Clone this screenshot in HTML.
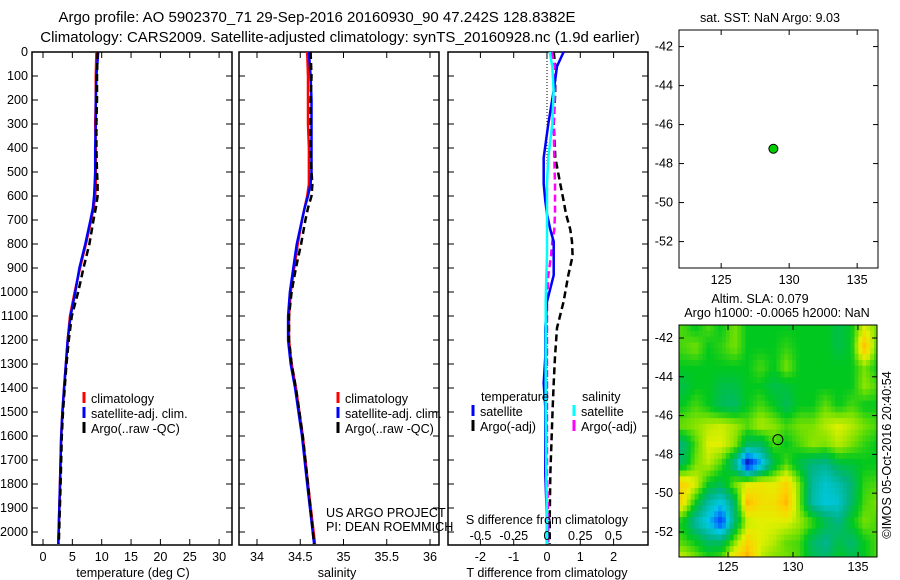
<!DOCTYPE html>
<html><head><meta charset="utf-8"><style>
body{margin:0;background:#fff;}
svg{display:block;font-family:"Liberation Sans",sans-serif;}
text{fill:#000;}
</style></head><body>
<svg id="fig" width="900" height="580" viewBox="0 0 900 580">
<text x="317" y="22" font-size="15" text-anchor="middle">Argo profile: AO 5902370_71 29-Sep-2016 20160930_90 47.242S 128.8382E</text>
<text x="340" y="42" font-size="15" text-anchor="middle">Climatology: CARS2009. Satellite-adjusted climatology: synTS_20160928.nc (1.9d earlier)</text>
<g id="g"></g>
</svg>
<script>
// ---- data ----
const depths = [0,100,200,300,400,500,550,600,650,700,800,900,1000,1100,1200,1300,1400,1500,1600,1800,2050];
const tempClim = [9.1,9.0,9.0,8.9,9.0,9.0,9.0,8.9,8.6,8.2,7.3,6.3,5.4,4.6,4.2,3.9,3.6,3.3,3.1,2.9,2.6];
const tempSat  = [9.4,9.1,9.0,9.0,8.9,8.9,8.8,8.7,8.5,8.1,7.2,6.2,5.5,4.7,4.2,3.9,3.6,3.3,3.1,2.9,2.6];
const tempArgo = [9.3,9.2,9.2,9.1,9.1,9.2,9.3,9.3,9.0,8.6,7.9,6.9,6.0,4.9,4.4,4.0,3.7,3.4,3.2,3.0,2.7];
const salClim  = [34.58,34.59,34.59,34.59,34.60,34.60,34.60,34.58,34.55,34.52,34.47,34.43,34.39,34.37,34.37,34.40,34.45,34.49,34.53,34.59,34.67];
const salSat   = [34.60,34.62,34.63,34.63,34.63,34.63,34.62,34.59,34.55,34.52,34.46,34.42,34.38,34.36,34.36,34.39,34.44,34.48,34.52,34.58,34.66];
const salArgo  = [34.62,34.63,34.62,34.62,34.62,34.63,34.64,34.63,34.59,34.56,34.51,34.45,34.40,34.37,34.37,34.40,34.45,34.49,34.53,34.59,34.66];
const diffDepths = [0,60,160,300,440,550,620,675,740,790,850,930,1040,1150,1270,1380,1480,1760,1950,2050];
const tDiffSat  = [0.5,0.3,0.2,0.04,-0.1,-0.1,-0.05,0,0.1,0.2,0.2,0.2,0.0,-0.05,-0.05,-0.1,-0.05,-0.05,0,0];
const tDiffArgo = [0.2,0.25,0.25,0.2,0.25,0.4,0.5,0.57,0.7,0.75,0.77,0.64,0.5,0.3,0.24,0.2,0.17,0.1,0.08,0.08];
const sDiffSat  = [0.02,0.04,0.05,0.04,0.01,0.0,0.0,0.0,0.0,0.0,0.0,-0.005,-0.01,-0.01,-0.01,-0.01,-0.01,-0.005,0,0];
const sDiffArgo = [0.035,0.06,0.06,0.05,0.055,0.06,0.06,0.06,0.055,0.04,0.03,0.01,0.0,0.0,0.0,0.0,0.0,0.0,0.01,0.01];
const depthTicks = [0,100,200,300,400,500,600,700,800,900,1000,1100,1200,1300,1400,1500,1600,1700,1800,1900,2000];
const tempTicks = [0,5,10,15,20,25,30];
const salTicks = [34,34.5,35,35.5,36];
const tdTicks = [-2,-1,0,1,2];
const sdTicks = [-0.5,-0.25,0,0.25,0.5];
const lonTicks = [125,130,135];
const latTicks = [-42,-44,-46,-48,-50,-52];
const argoLon = 128.84, argoLat = -47.24;
const slaLons = [121.5,122.5,123.5,124.5,125.5,126.5,127.5,128.5,129.5,130.5,131.5,132.5,133.5,134.5,135.5,136.5];
const slaLats = [-41.5,-42.5,-43.5,-44.5,-45.5,-46.5,-47.5,-48.5,-49.5,-50.5,-51.5,-52.5,-53.5];
const slaGrid = [
[0.3,0,0.3,0,0.5,0,0,0,0,0,0,0,-0.3,0,1,0.5],
[0.3,0.5,0,0.2,0.5,0,0,0,0.2,0,0,0,-0.3,0,1.8,0.3],
[0,0,0,0,0,0,0.3,0,0.5,0,0,0,0,0,0.5,0],
[-0.3,0,0,-0.3,-0.3,0,0,-0.3,-0.2,0,0,0,0,0,0.6,0.3],
[0,0.3,0,-0.4,-0.5,0,0.3,0,-0.4,0,0,0.4,0,0.3,0,0],
[0.5,0.6,0.8,0.9,0.7,0.4,0.8,0.6,0.3,0.5,0.5,0.8,1,0.8,0.5,0.3],
[-0.6,0.3,1,1,0.6,-0.5,-0.5,0.3,0,0.3,0.6,0.5,0.8,0.5,0.2,0],
[-0.4,0.5,0.8,0.3,-0.8,-3,-1.8,-0.3,0.3,-0.3,-0.7,-0.8,-0.3,-0.2,0,0],
[1.5,1,0,-0.3,0.5,1.0,1.2,1,1.5,0.5,-0.9,-1.3,-1,-0.6,0.2,0.3],
[1.3,0,-1,-1.5,-0.5,1.8,1.3,1.3,1.8,0.5,-1,-1.4,-1.3,-0.5,0.3,0.5],
[0,-1,-1.6,-2.5,-0.6,0.8,1,1,1,0.7,0.3,-0.3,-0.7,0,0.5,0.3],
[0.3,0,-0.5,-0.5,0.5,1.5,1,0.8,0.4,0.3,-0.5,-0.8,-0.3,-0.6,0,0.3],
[1,0.6,0.3,0.5,1.5,2,0.8,0.5,0.5,0.3,-0.3,-0.5,0,-0.3,0,0.3]];

// ---- helpers ----
const NS="http://www.w3.org/2000/svg";
const G=document.getElementById('g');
const FS=12.6;
function el(tag,attrs,parent){const e=document.createElementNS(NS,tag);for(const k in attrs)e.setAttribute(k,attrs[k]);(parent||G).appendChild(e);return e;}
function txt(s,x,y,size,anchor,parent){const t=el('text',{x:x,y:y,'font-size':size,'text-anchor':anchor||'middle'},parent);t.textContent=s;return t;}
const yD=d=>52+d*0.24;
const xT=v=>43+v*5.87;
const xS=v=>257+(v-34)*86.5;
const xTd=v=>547+v*33.3;
const xSd=v=>547+v*133;

function panel(x0,x1,name){
  const r=el('rect',{x:x0,y:52,width:x1-x0,height:493,fill:'none',stroke:'#000','stroke-width':1.5});
  
  
  depthTicks.forEach(d=>{
    el('line',{x1:x0,x2:x0+6,y1:yD(d),y2:yD(d),stroke:'#000'});
    el('line',{x1:x1-6,x2:x1,y1:yD(d),y2:yD(d),stroke:'#000'});
  });
}
function profile(xs,vals,dep,fx,color,dash,name){
  const pts=vals.map((v,i)=>fx(v).toFixed(1)+','+yD(dep[i]).toFixed(1)).join(' ');
  const p=el('polyline',{points:pts,fill:'none',stroke:color,'stroke-width':2.5});
  if(dash)p.setAttribute('stroke-dasharray',dash);
  
  
}
function xTicks(ticks,fx,labelY,fmt){
  ticks.forEach(t=>{
    const x=fx(t);
    el('line',{x1:x,x2:x,y1:545,y2:539,stroke:'#000'});
    el('line',{x1:x,x2:x,y1:52,y2:58,stroke:'#000'});
    const lb=txt(fmt?fmt(t):String(t),x,labelY,FS);
    
    
  });
}
function legend(x,y,items){
  items.forEach((it,i)=>{
    el('line',{x1:x,x2:x,y1:y+i*15-11,y2:y+i*15,stroke:it[1],'stroke-width':3});
    const t=txt(it[0],x+7,y+i*15,FS,'start');
    
    
  });
}

// depth labels
depthTicks.forEach(d=>{const t=txt(String(d),28,yD(d)+4,FS,'end');
  
  });

// panel 1 temperature
panel(32,232,'temperature-panel');
xTicks(tempTicks,xT,561);
profile(0,tempClim,depths,xT,'#f00',null,'temp-climatology-line');
profile(0,tempSat,depths,xT,'#00f',null,'temp-satellite-line');
profile(0,tempArgo,depths,xT,'#000','7,4','temp-argo-line');
txt('temperature (deg C)',133,577,FS);
legend(84,403,[['climatology','#f00'],['satellite-adj. clim.','#00f'],['Argo(..raw -QC)','#000']]);

// panel 2 salinity
panel(239,439,'salinity-panel');
xTicks(salTicks,xS,561);
profile(0,salClim,depths,xS,'#f00',null,'sal-climatology-line');
profile(0,salSat,depths,xS,'#00f',null,'sal-satellite-line');
profile(0,salArgo,depths,xS,'#000','7,4','sal-argo-line');
txt('salinity',337,577,FS);
legend(338,403,[['climatology','#f00'],['satellite-adj. clim.','#00f'],['Argo(..raw -QC)','#000']]);
txt('US ARGO PROJECT',326,517,FS,'start');
txt('PI: DEAN ROEMMICH',326,531,FS,'start');

// panel 3 differences
panel(448,648,'difference-panel');
xTicks(tdTicks,xTd,561);
el('line',{x1:547,x2:547,y1:52,y2:545,stroke:'#000','stroke-dasharray':'1,2'});
profile(0,tDiffArgo,diffDepths,xTd,'#000','7,4','tdiff-argo-line');
profile(0,sDiffArgo,diffDepths,xSd,'#f0f','7,4','sdiff-argo-line');
profile(0,tDiffSat,diffDepths,xTd,'#00f',null,'tdiff-satellite-line');
profile(0,sDiffSat,diffDepths,xSd,'#0ff',null,'sdiff-satellite-line');
sdTicks.forEach(t=>{const lb=txt(String(t),xSd(t),540,FS);
  
  });
txt('S difference from climatology',547,524,FS);
txt('T difference from climatology',547,577,FS);
txt('temperature',481,401,FS,'start');
txt('salinity',582,401,FS,'start');
legend(473,416,[['satellite','#00f'],['Argo(-adj)','#000']]);
legend(574,416,[['satellite','#0ff'],['Argo(-adj)','#f0f']]);

// ---- maps ----
function mapFrame(x0,y0,x1,y1,lon0,pxLon,lat0,pyLat,labelY,name){
  const fx=l=>x0+(l-lon0)*pxLon, fy=l=>y0+(lat0-l)*pyLat;
  latTicks.forEach(l=>{const y=fy(l);
    el('line',{x1:x0,x2:x0+5,y1:y,y2:y,stroke:'#000'});
    el('line',{x1:x1-5,x2:x1,y1:y,y2:y,stroke:'#000'});
    const t=txt(String(l),673,y+4,FS,'end');
    
    });
  lonTicks.forEach(l=>{const x=fx(l);
    el('line',{x1:x,x2:x,y1:y1,y2:y1-5,stroke:'#000'});
    el('line',{x1:x,x2:x,y1:y0,y2:y0+5,stroke:'#000'});
    const t=txt(String(l),x,labelY,FS);
    
    });
  const r=el('rect',{x:x0,y:y0,width:x1-x0,height:y1-y0,fill:'none',stroke:'#000'});
  
  
  return [fx,fy];
}
// map 1
const m1=mapFrame(679,30,878,268,121.9,13.6,-41.15,19.5,284,'sst-map-frame');
txt('sat. SST: NaN  Argo: 9.03',770,22,FS);
const d1=el('circle',{cx:m1[0](argoLon),cy:m1[1](argoLat),r:4.5,fill:'#0c0',stroke:'#000'});



// map 2 heatmap
const x0=679,y0=325,x1=877,y1=557;
const fx2=l=>x0+(l-121.23)*13, fy2=l=>y0+(-41.33-l)*19.4;
const stops=[[-3,[0,0,140]],[-2.3,[0,80,255]],[-1.5,[0,200,230]],[-0.7,[0,180,130]],[0,[0,200,30]],[0.5,[120,225,0]],[1,[225,240,0]],[1.6,[255,205,0]],[2.2,[255,140,0]]];
function cmap(v){
  if(v<=stops[0][0])return stops[0][1];
  for(let i=1;i<stops.length;i++){if(v<=stops[i][0]){const a=stops[i-1],b=stops[i],f=(v-a[0])/(b[0]-a[0]);return a[1].map((c,k)=>Math.round(c+(b[1][k]-c)*f));}}
  return stops[stops.length-1][1];
}
function sample(lon,lat){
  let fi=(lon-slaLons[0]);fi=Math.max(0,Math.min(slaLons.length-1.001,fi));
  let fj=(slaLats[0]-lat);fj=Math.max(0,Math.min(slaLats.length-1.001,fj));
  const i=Math.floor(fi),j=Math.floor(fj),u=fi-i,w=fj-j;
  return slaGrid[j][i]*(1-u)*(1-w)+slaGrid[j][i+1]*u*(1-w)+slaGrid[j+1][i]*(1-u)*w+slaGrid[j+1][i+1]*u*w;
}
const hm=el('g',{});


const step=0.3;
for(let lat=-41.33;lat>-53.4;lat-=step){
  for(let lon=121.23;lon<136.5;lon+=step){
    const c=cmap(sample(lon+step/2,lat-step/2));
    const xa=fx2(lon),ya=fy2(lat);
    const w=Math.min(fx2(lon+step),x1)-xa,h=Math.min(fy2(lat-step),y1)-ya;
    if(w>0&&h>0)el('rect',{x:xa.toFixed(2),y:ya.toFixed(2),width:(w+0.6).toFixed(2),height:(h+0.6).toFixed(2),fill:'rgb('+c.join(',')+')'},hm);
  }
}
el('rect',{x:x1,y:y0-1,width:20,height:y1-y0+2,fill:'#fff'});
el('rect',{x:x0-1,y:y1,width:x1-x0+2,height:20,fill:'#fff'});
mapFrame(x0,y0,x1,y1,121.23,13,-41.33,19.4,571,'sla-map-frame');
const d2=el('circle',{cx:fx2(argoLon),cy:fy2(argoLat),r:5,fill:'none',stroke:'#000'});


txt('Altim. SLA: 0.079',760,303,FS);
txt('Argo h1000: -0.0065 h2000: NaN',777,317,FS);
const cr=txt('©IMOS 05-Oct-2016 20:40:54',0,0,FS);
cr.setAttribute('transform','translate(891,455) rotate(-90)');


</script>
</body></html>
